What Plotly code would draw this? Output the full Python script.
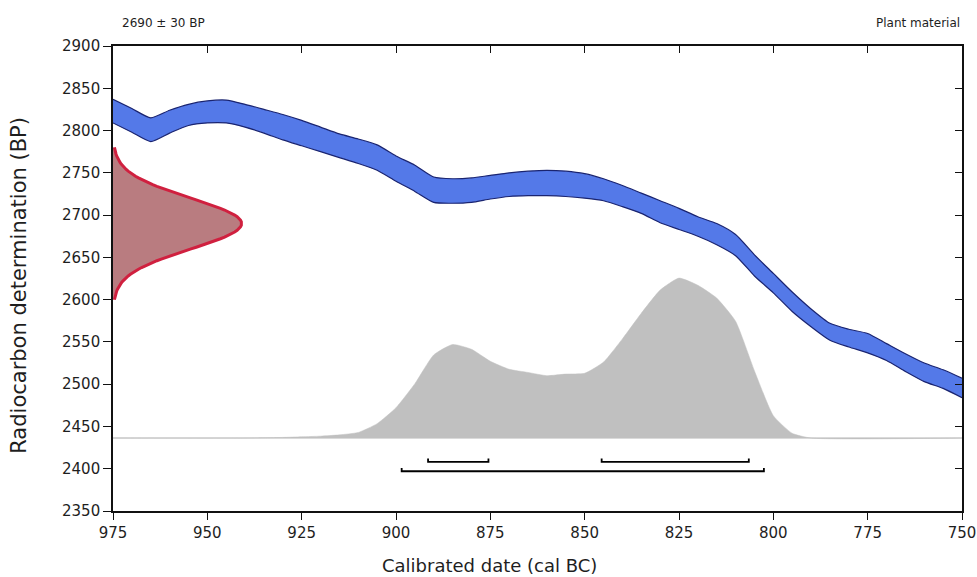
import numpy as np
import plotly.graph_objects as go

# ---------------- data ----------------
# Calibration curve band (cal BC years, upper and lower BP edges)
cal_years = [975, 970, 965, 960, 955, 950, 945, 940, 935, 930, 925, 920, 915, 910, 905,
             900, 895, 890, 885, 880, 875, 870, 865, 860, 855, 850, 845, 840, 835, 830,
             825, 820, 815, 810, 805, 800, 795, 790, 785, 780, 775, 770, 765, 760, 755, 750]
cal_upper = [2837, 2826, 2815, 2824, 2831, 2835, 2836, 2831, 2825, 2819, 2812, 2804, 2796, 2790, 2783,
             2770, 2759, 2745, 2743, 2744, 2747, 2750, 2752, 2753, 2752, 2749, 2743, 2735, 2726, 2717,
             2708, 2698, 2690, 2677, 2653, 2631, 2609, 2589, 2572, 2565, 2560, 2548, 2536, 2525, 2517, 2507]
cal_lower = [2809, 2798, 2787, 2797, 2806, 2809, 2809, 2804, 2797, 2789, 2782, 2775, 2768, 2761, 2753,
             2740, 2728, 2715, 2714, 2715, 2719, 2722, 2723, 2723, 2722, 2720, 2717, 2710, 2702, 2691,
             2683, 2675, 2665, 2652, 2628, 2608, 2586, 2568, 2552, 2544, 2537, 2528, 2515, 2503, 2495, 2484]

# Calibrated probability distribution (relative, peak = 1)
post_years = [975, 940, 935, 930, 925, 920, 915, 910, 905, 900, 895, 890, 885, 880, 875, 870, 865,
              860, 855, 850, 845, 840, 835, 830, 825, 820, 815, 810, 805, 800, 795, 790, 750]
post_prob = [0.0, 0.0, 0.002, 0.004, 0.008, 0.012, 0.02, 0.035, 0.09, 0.19, 0.34, 0.52, 0.585, 0.555,
             0.48, 0.43, 0.41, 0.39, 0.40, 0.405, 0.475, 0.62, 0.78, 0.925, 1.0, 0.955, 0.875, 0.73,
             0.42, 0.14, 0.03, 0.0, 0.0]

# Radiocarbon measurement
c14_mean = 2690
c14_sd = 30

# Calibrated ranges (cal BC)
range_68 = [(891.5, 875.5), (845.5, 806.5)]
range_95 = [(898.5, 802.5)]

x_ticks = [975, 950, 925, 900, 875, 850, 825, 800, 775, 750]

# ---------------- figure ----------------
FONT = "DejaVu Sans, Verdana, sans-serif"
TXT = "#1e1e1e"
fig = go.Figure()

# baseline of the calibrated distribution
fig.add_trace(go.Scatter(x=[cal_years[0], cal_years[-1]], y=[0, 0], mode="lines",
                         line=dict(color="#dadada", width=2), xaxis="x", yaxis="y3",
                         hoverinfo="skip", showlegend=False))
# calibrated distribution
fig.add_trace(go.Scatter(x=post_years, y=post_prob, mode="lines", fill="tozeroy",
                         fillcolor="#c0c0c0", line=dict(color="#c0c0c0", width=0.5, shape="spline", smoothing=0.5),
                         xaxis="x", yaxis="y3", hoverinfo="skip", showlegend=False))

# calibration curve band
fig.add_trace(go.Scatter(x=cal_years, y=cal_lower, mode="lines",
                         line=dict(color="#1a2470", width=1.2, shape="spline", smoothing=0.6),
                         hoverinfo="skip", showlegend=False))
fig.add_trace(go.Scatter(x=cal_years, y=cal_upper, mode="lines", fill="tonexty",
                         fillcolor="#5479e8",
                         line=dict(color="#1a2470", width=1.2, shape="spline", smoothing=0.6),
                         hoverinfo="skip", showlegend=False))

# radiocarbon measurement distribution
bp = np.arange(c14_mean - 3 * c14_sd, c14_mean + 3 * c14_sd + 1, 2)
dens = np.exp(-0.5 * ((bp - c14_mean) / c14_sd) ** 2)
fig.add_trace(go.Scatter(x=dens, y=bp, mode="lines", fill="tozerox",
                         fillcolor="#b97c80", line=dict(color="#d0203f", width=3),
                         xaxis="x3", yaxis="y", hoverinfo="skip", showlegend=False))

# range bars
LEVEL_68, LEVEL_95, CAP = 2408, 2397, 4
for level, ranges in ((LEVEL_68, range_68), (LEVEL_95, range_95)):
    for a, b in ranges:
        fig.add_trace(go.Scatter(x=[a, a, b, b], y=[level + CAP, level, level, level + CAP],
                                 mode="lines", line=dict(color="black", width=1.8),
                                 hoverinfo="skip", showlegend=False))

# invisible trace to draw the mirrored (inside) tick axes
fig.add_trace(go.Scatter(x=[975], y=[2900], mode="markers", marker=dict(opacity=0),
                         xaxis="x2", yaxis="y2", hoverinfo="skip", showlegend=False))

axis_common = dict(showgrid=False, zeroline=False, showline=True, linecolor="#111",
                   linewidth=1.6, automargin=False)
fig.update_layout(
    width=977, height=577,
    margin=dict(l=113, r=15, t=46, b=66),
    paper_bgcolor="white", plot_bgcolor="white",
    font=dict(family=FONT, size=15, color=TXT),
    xaxis=dict(range=[975, 750], tickvals=x_ticks, ticks="outside", ticklen=7, tickwidth=1.2,
               tickcolor="#111", tickfont=dict(size=15, family=FONT, color=TXT),
               **axis_common),
    yaxis=dict(range=[2350, 2900], dtick=50, ticks="outside", ticklen=8, tickwidth=1.2,
               tickcolor="#111", tickfont=dict(size=15, family=FONT, color=TXT),
               **axis_common),
    xaxis2=dict(overlaying="x", side="top", range=[975, 750], tickvals=x_ticks, ticks="inside",
                ticklen=7, tickwidth=1.2, tickcolor="#111", showticklabels=False, anchor="y2",
                **axis_common),
    yaxis2=dict(overlaying="y", side="right", range=[2350, 2900], dtick=50, ticks="inside",
                ticklen=7, tickwidth=1.2, tickcolor="#111", showticklabels=False, anchor="x2",
                **axis_common),
    xaxis3=dict(overlaying="x", range=[0, 6.6], visible=False),
    yaxis3=dict(overlaying="y", range=[-0.456, 2.451], visible=False),
    annotations=[
        dict(text="2690 \u00b1 30 BP", xref="paper", yref="paper", x=0.008, y=1.03,
             xanchor="left", yanchor="bottom", showarrow=False, font=dict(size=12, family=FONT, color=TXT)),
        dict(text="Plant material", xref="paper", yref="paper", x=1.0, y=1.03,
             xanchor="right", yanchor="bottom", showarrow=False, font=dict(size=12, family=FONT, color=TXT)),
        # axis titles (centred on the whole image, as in the reference)
        dict(text="Calibrated date (cal BC)", xref="paper", yref="paper", x=0.444, y=-0.118,
             xanchor="center", yanchor="middle", showarrow=False, font=dict(size=18, family=FONT, color=TXT)),
        dict(text="Radiocarbon determination (BP)", xref="paper", yref="paper", x=-0.111, y=0.486,
             xanchor="center", yanchor="middle", textangle=-90, showarrow=False,
             font=dict(size=21, family=FONT, color=TXT)),
    ],
)

fig.write_html("out.html")
